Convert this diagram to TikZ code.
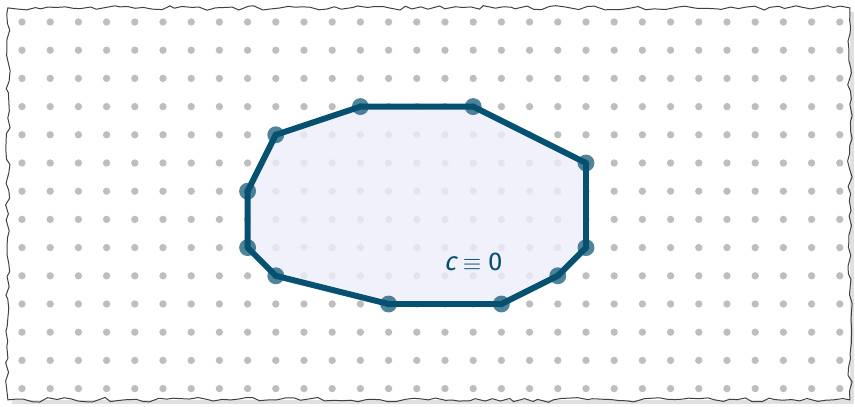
\documentclass[tikz,border=0pt]{standalone}
\usepackage{fontspec}
\setmainfont{Fira Sans}
\newfontfamily\slantfont[FakeSlant=0.22]{Fira Sans}
\usetikzlibrary{decorations.pathmorphing}

\definecolor{edgeblue}{RGB}{6,80,112}
\definecolor{areafill}{RGB}{238,238,250}
\definecolor{griddot}{RGB}{190,190,190}

\begin{document}
\begin{tikzpicture}[
    x=0.5cm, y=-0.5cm,
    torn/.style={draw=black!75, line width=0.5pt, decorate,
        decoration={random steps, segment length=4pt, amplitude=1.2pt}},
    gridpt/.style={fill=griddot},
    region/.style={fill=areafill, fill opacity=0.8},
    boundary/.style={draw=edgeblue, line width=3pt, line join=round},
    vertexpt/.style={fill=edgeblue, fill opacity=0.7}
]
\useasboundingbox (-0.78,-0.78) rectangle (29.54,13.65);

% Paper with torn edges
\fill[black!12] (-0.35,-0.35) rectangle (29.5,13.55);
\fill[white] (-0.5,-0.5) rectangle (29.36,13.4);
\draw[torn] (-0.5,-0.5) rectangle (29.36,13.4);

% Dot grid
\foreach \i in {0,...,29}
  \foreach \j in {0,...,13}
    \fill[gridpt] (\i,\j) circle (0.065cm);

% Corners of the region
\coordinate (P1) at (12,3);
\coordinate (P2) at (16,3);
\coordinate (P3) at (20,5);
\coordinate (P4) at (20,8);
\coordinate (P5) at (19,9);
\coordinate (P6) at (17,10);
\coordinate (P7) at (13,10);
\coordinate (P8) at (9,9);
\coordinate (P9) at (8,8);
\coordinate (P10) at (8,6);
\coordinate (P11) at (9,4);

% Region and its boundary
\fill[region] (P1) -- (P2) -- (P3) -- (P4) -- (P5) -- (P6) -- (P7)
    -- (P8) -- (P9) -- (P10) -- (P11) -- cycle;
\draw[boundary] (P1) -- (P2) -- (P3) -- (P4) -- (P5) -- (P6) -- (P7)
    -- (P8) -- (P9) -- (P10) -- (P11) -- cycle;

% Vertex markers
\foreach \k in {1,...,11}
  \fill[vertexpt] (P\k) circle (0.15cm);

% Label
\node[text=edgeblue, font=\fontsize{13}{15}\selectfont] (lbl) at (16,8.5)
    {{\slantfont c} $\equiv$ 0};

\end{tikzpicture}
\end{document}
